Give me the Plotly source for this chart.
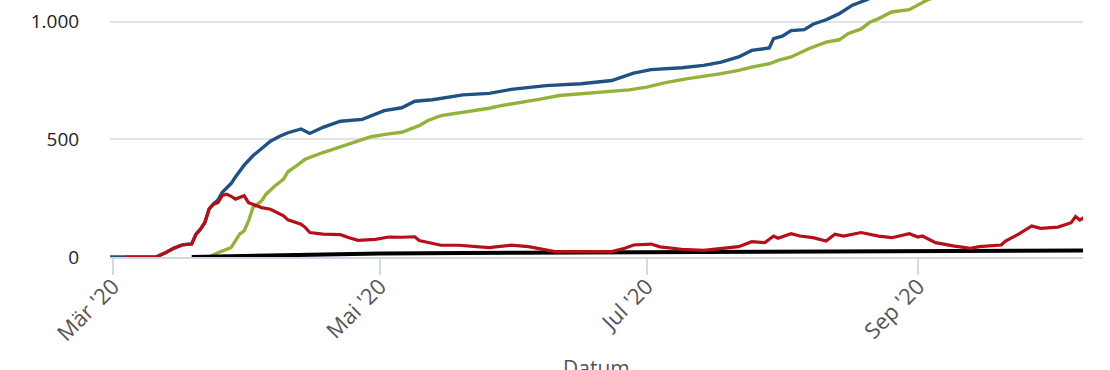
import plotly.graph_objects as go

# Cumulative cases (blue)
cases_dates = ["2020-02-29", "2020-03-04", "2020-03-11", "2020-03-13", "2020-03-15", "2020-03-17",
               "2020-03-19", "2020-03-20", "2020-03-21", "2020-03-22", "2020-03-23", "2020-03-24",
               "2020-03-25", "2020-03-26", "2020-03-28", "2020-03-29", "2020-03-31", "2020-04-02",
               "2020-04-05", "2020-04-06", "2020-04-08", "2020-04-10", "2020-04-13", "2020-04-15",
               "2020-04-18", "2020-04-22", "2020-04-27", "2020-04-29", "2020-05-02", "2020-05-06",
               "2020-05-09", "2020-05-13", "2020-05-17", "2020-05-20", "2020-05-26", "2020-05-31",
               "2020-06-08", "2020-06-16", "2020-06-23", "2020-06-25", "2020-06-28", "2020-07-02",
               "2020-07-09", "2020-07-14", "2020-07-18", "2020-07-22", "2020-07-25", "2020-07-29",
               "2020-07-30", "2020-08-01", "2020-08-03", "2020-08-06", "2020-08-08", "2020-08-11",
               "2020-08-14", "2020-08-17", "2020-08-20", "2020-09-01", "2020-09-15", "2020-10-01",
               "2020-10-09"]
cases = [0, 0, 1, 18, 38, 52,
         56, 97, 118, 146, 205, 226,
         242, 275, 312, 340, 390, 430,
         478, 492, 512, 528, 544, 525,
         551, 577, 585, 601, 622, 634,
         662, 668, 679, 689, 695, 712,
         728, 736, 750, 762, 781, 796,
         804, 814, 828, 850, 878, 888,
         928, 938, 962, 966, 989, 1008,
         1034, 1070, 1091, 1188, 1252, 1395,
         1468]

# Recovered (green)
recovered_dates = ["2020-03-23", "2020-03-25", "2020-03-28", "2020-03-29", "2020-03-30", "2020-03-31",
                   "2020-04-01", "2020-04-02", "2020-04-04", "2020-04-05", "2020-04-07", "2020-04-09",
                   "2020-04-10", "2020-04-12", "2020-04-13", "2020-04-14", "2020-04-18", "2020-04-22",
                   "2020-04-26", "2020-04-29", "2020-05-03", "2020-05-06", "2020-05-10", "2020-05-12",
                   "2020-05-15", "2020-05-19", "2020-05-22", "2020-05-26", "2020-05-29", "2020-06-03",
                   "2020-06-07", "2020-06-11", "2020-06-16", "2020-06-21", "2020-06-27", "2020-07-01",
                   "2020-07-05", "2020-07-10", "2020-07-14", "2020-07-18", "2020-07-22", "2020-07-25",
                   "2020-07-29", "2020-07-31", "2020-08-03", "2020-08-07", "2020-08-11", "2020-08-14",
                   "2020-08-16", "2020-08-19", "2020-08-21", "2020-08-23", "2020-08-26", "2020-08-30",
                   "2020-09-03", "2020-09-15", "2020-10-01", "2020-10-09"]
recovered = [0, 18, 40, 68, 98, 111,
             153, 210, 239, 267, 302, 331,
             362, 388, 402, 416, 444, 469,
             494, 511, 523, 530, 558, 580,
             601, 611, 622, 632, 644, 658,
             672, 686, 693, 703, 710, 722,
             740, 757, 767, 779, 793, 807,
             821, 835, 850, 885, 913, 923,
             949, 969, 998, 1013, 1041, 1051,
             1091, 1180, 1240, 1272]

# Active cases (red)
active_dates = ["2020-03-04", "2020-03-11", "2020-03-13", "2020-03-15", "2020-03-17", "2020-03-19",
                "2020-03-20", "2020-03-21", "2020-03-22", "2020-03-23", "2020-03-24", "2020-03-25",
                "2020-03-26", "2020-03-27", "2020-03-28", "2020-03-29", "2020-03-31", "2020-04-01",
                "2020-04-03", "2020-04-04", "2020-04-06", "2020-04-08", "2020-04-09", "2020-04-10",
                "2020-04-13", "2020-04-14", "2020-04-15", "2020-04-18", "2020-04-22", "2020-04-24",
                "2020-04-26", "2020-04-30", "2020-05-03", "2020-05-06", "2020-05-09", "2020-05-10",
                "2020-05-12", "2020-05-15", "2020-05-19", "2020-05-22", "2020-05-26", "2020-05-28",
                "2020-05-31", "2020-06-04", "2020-06-08", "2020-06-10", "2020-06-23", "2020-06-26",
                "2020-06-28", "2020-07-02", "2020-07-04", "2020-07-09", "2020-07-14", "2020-07-18",
                "2020-07-22", "2020-07-25", "2020-07-28", "2020-07-30", "2020-07-31", "2020-08-03",
                "2020-08-05", "2020-08-08", "2020-08-11", "2020-08-13", "2020-08-15", "2020-08-19",
                "2020-08-21", "2020-08-23", "2020-08-26", "2020-08-30", "2020-09-01", "2020-09-02",
                "2020-09-05", "2020-09-09", "2020-09-13", "2020-09-15", "2020-09-20", "2020-09-21",
                "2020-09-24", "2020-09-27", "2020-09-29", "2020-10-03", "2020-10-06", "2020-10-07",
                "2020-10-08", "2020-10-09"]
active = [0, 1, 18, 38, 52, 55,
          97, 118, 146, 205, 224, 231,
          262, 267, 258, 246, 260, 231,
          217, 210, 203, 182, 175, 158,
          139, 125, 104, 97, 95, 82,
          71, 75, 85, 84, 86, 70,
          61, 50, 50, 47, 40, 44,
          50, 44, 28, 23, 23, 37,
          51, 55, 43, 33, 28, 37,
          44, 65, 61, 89, 80, 99,
          89, 82, 68, 97, 89, 104,
          97, 89, 82, 99, 85, 89,
          61, 47, 37, 44, 51, 68,
          97, 132, 122, 127, 146, 172,
          157, 168]

# Deaths (black)
deaths_dates = ["2020-03-19", "2020-04-01", "2020-04-15", "2020-05-01", "2020-06-01",
                "2020-07-01", "2020-08-01", "2020-09-01", "2020-10-09"]
deaths = [0, 4, 10, 15, 18, 21, 23, 26, 28]

tick_vals = ["2020-03-01", "2020-05-01", "2020-07-01", "2020-09-01"]
tick_text = ["Mär '20", "Mai '20", "Jul '20", "Sep '20"]
y_ticks = [0, 500, 1000]
x_title = "Datum"

fig = go.Figure()
fig.add_trace(go.Scatter(x=cases_dates, y=cases, mode="lines", name="Fälle",
                         line=dict(color="#1f5283", width=3.4)))
fig.add_trace(go.Scatter(x=recovered_dates, y=recovered, mode="lines", name="Genesen",
                         line=dict(color="#93b23a", width=3.4)))
fig.add_trace(go.Scatter(x=deaths_dates, y=deaths, mode="lines", name="Verstorben",
                         line=dict(color="#000000", width=4)))
fig.add_trace(go.Scatter(x=active_dates, y=active, mode="lines", name="Aktiv",
                         line=dict(color="#b5101a", width=3.2)))

fig.update_layout(
    width=1110, height=370,
    margin=dict(l=110, r=27, t=0, b=113),
    paper_bgcolor="white", plot_bgcolor="white",
    font=dict(family="Open Sans", size=19, color="#222222"),
    separators=",.",
    showlegend=False,
    xaxis=dict(
        automargin=False,
        range=["2020-02-29 08:00", "2020-10-08 17:00"],
        tickvals=tick_vals, ticktext=tick_text, tickangle=-45,
        tickfont=dict(size=22, color="#555555"),
        ticks="outside", ticklen=16, tickwidth=2, tickcolor="#d3d9e3",
        ticklabelstandoff=-10,
        showgrid=False, showline=True, linecolor="#cfd7e4", linewidth=2,
        zeroline=False,
    ),
    yaxis=dict(
        automargin=False,
        range=[0, 1092], tickvals=y_ticks, separatethousands=True,
        tickfont=dict(size=19, color="#222222"),
        ticks="outside", ticklen=26, tickcolor="rgba(0,0,0,0)",
        showgrid=True, gridcolor="#e3e3e6", gridwidth=2,
        zeroline=False, showline=False,
    ),
    annotations=[dict(text=x_title, xref="paper", yref="paper", x=0.5, y=-0.37,
                      xanchor="center", yanchor="top", showarrow=False,
                      font=dict(size=21, color="#555555"))],
)

fig.write_html("out.html", config={"displayModeBar": False},
               post_script="document.body.style.margin='0';document.body.style.overflow='hidden';")
